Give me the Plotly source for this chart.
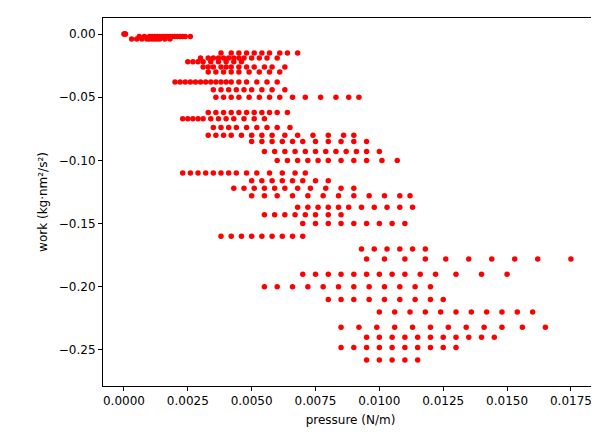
import plotly.graph_objects as go

# work levels (rows of points) and the pressures observed at each level
work_levels = [0.000, -0.002, -0.004, -0.015, -0.019, -0.022, -0.026, -0.030,
               -0.038, -0.044, -0.050, -0.062, -0.067, -0.074, -0.080, -0.085,
               -0.093, -0.100, -0.110, -0.116, -0.122, -0.128, -0.137, -0.143,
               -0.150, -0.160, -0.170, -0.178, -0.190, -0.200, -0.210, -0.220,
               -0.232, -0.240, -0.248, -0.258]

pressures = [
    [0.0000, 0.00002, 0.00004, 0.00006],
    [0.0006, 0.0008, 0.0010, 0.0011, 0.0012, 0.0013, 0.0014, 0.0015, 0.0016, 0.0017, 0.0018, 0.0019, 0.0020, 0.0021, 0.0022, 0.0023, 0.0024, 0.0026],
    [0.0003, 0.0005, 0.0007, 0.0009, 0.0010, 0.0011, 0.0012, 0.0013, 0.0014, 0.0016, 0.0018],
    [0.0038, 0.0042, 0.0045, 0.0048, 0.0051, 0.0054, 0.0057, 0.0061, 0.0064, 0.0068],
    [0.0030, 0.0033, 0.0035, 0.0037, 0.0039, 0.0041, 0.0043, 0.0045, 0.0047, 0.0050, 0.0053, 0.0056, 0.0060],
    [0.0025, 0.0027, 0.0029, 0.0031, 0.0034, 0.0037, 0.0040, 0.0043, 0.0046],
    [0.0031, 0.0033, 0.0035, 0.0038, 0.0040, 0.0042, 0.0045, 0.0048, 0.0051, 0.0055, 0.0058, 0.0063],
    [0.0033, 0.0036, 0.0039, 0.0042, 0.0045, 0.0049, 0.0053, 0.0057, 0.0061],
    [0.0020, 0.0022, 0.0024, 0.0026, 0.0028, 0.0030, 0.0032, 0.0034, 0.0036, 0.0038, 0.0040, 0.0042, 0.0045, 0.0048, 0.0052, 0.0056, 0.0060],
    [0.0035, 0.0038, 0.0041, 0.0044, 0.0047, 0.0050, 0.0054, 0.0058, 0.0063],
    [0.0036, 0.0039, 0.0042, 0.0045, 0.0049, 0.0053, 0.0057, 0.0061, 0.0066, 0.0071, 0.0077, 0.0083, 0.0088, 0.0092],
    [0.0033, 0.0036, 0.0039, 0.0042, 0.0045, 0.0048, 0.0051, 0.0054, 0.0057, 0.0060, 0.0064],
    [0.0023, 0.0025, 0.0027, 0.0029, 0.0031, 0.0034, 0.0037, 0.0040, 0.0043, 0.0047, 0.0051, 0.0055],
    [0.0035, 0.0038, 0.0041, 0.0044, 0.0048, 0.0052, 0.0056, 0.0060, 0.0065],
    [0.0033, 0.0036, 0.0039, 0.0042, 0.0046, 0.0050, 0.0054, 0.0058, 0.0063, 0.0068, 0.0074, 0.0080, 0.0086, 0.0090],
    [0.0050, 0.0054, 0.0058, 0.0062, 0.0066, 0.0070, 0.0075, 0.0080, 0.0085, 0.0090, 0.0095],
    [0.0055, 0.0059, 0.0063, 0.0067, 0.0071, 0.0075, 0.0079, 0.0083, 0.0087, 0.0091, 0.0095, 0.0100],
    [0.0060, 0.0064, 0.0068, 0.0072, 0.0076, 0.0080, 0.0085, 0.0090, 0.0095, 0.0101, 0.0107],
    [0.0023, 0.0026, 0.0029, 0.0032, 0.0035, 0.0038, 0.0041, 0.0044, 0.0048, 0.0052, 0.0057, 0.0062, 0.0067, 0.0071],
    [0.0050, 0.0054, 0.0058, 0.0062, 0.0066, 0.0070, 0.0075, 0.0080],
    [0.0043, 0.0047, 0.0051, 0.0055, 0.0059, 0.0063, 0.0068, 0.0073, 0.0079, 0.0085, 0.0090],
    [0.0050, 0.0055, 0.0060, 0.0066, 0.0072, 0.0078, 0.0084, 0.0090, 0.0096, 0.0102, 0.0108, 0.0112],
    [0.0068, 0.0072, 0.0076, 0.0080, 0.0084, 0.0088, 0.0093, 0.0098, 0.0103, 0.0108, 0.0113],
    [0.0055, 0.0059, 0.0063, 0.0067, 0.0071, 0.0075, 0.0080, 0.0085],
    [0.0070, 0.0075, 0.0080, 0.0085, 0.0090, 0.0095, 0.0100, 0.0105, 0.0110],
    [0.0038, 0.0042, 0.0046, 0.0050, 0.0054, 0.0058, 0.0062, 0.0066, 0.0070],
    [0.0093, 0.0098, 0.0103, 0.0108, 0.0113, 0.0118],
    [0.0095, 0.0102, 0.0110, 0.0118, 0.0126, 0.0135, 0.0144, 0.0153, 0.0162, 0.0175],
    [0.0070, 0.0075, 0.0080, 0.0085, 0.0090, 0.0095, 0.0100, 0.0105, 0.0110, 0.0116, 0.0122, 0.0130, 0.0140, 0.0150],
    [0.0055, 0.0060, 0.0066, 0.0072, 0.0078, 0.0084, 0.0090, 0.0096, 0.0102, 0.0108, 0.0114, 0.0120],
    [0.0080, 0.0085, 0.0090, 0.0096, 0.0102, 0.0108, 0.0114, 0.0120, 0.0125],
    [0.0100, 0.0106, 0.0112, 0.0118, 0.0124, 0.0130, 0.0136, 0.0142, 0.0148, 0.0154, 0.0160],
    [0.0085, 0.0092, 0.0099, 0.0106, 0.0113, 0.0120, 0.0127, 0.0134, 0.0141, 0.0148, 0.0156, 0.0165],
    [0.0095, 0.0100, 0.0105, 0.0110, 0.0115, 0.0120, 0.0125, 0.0130, 0.0135, 0.0140, 0.0145],
    [0.0085, 0.0090, 0.0095, 0.0100, 0.0105, 0.0110, 0.0115, 0.0120, 0.0125, 0.0130],
    [0.0095, 0.0100, 0.0105, 0.0110, 0.0115],
]

x, y = [], []
for w, ps in zip(work_levels, pressures):
    for p in ps:
        x.append(p)
        y.append(w)

fig = go.Figure(go.Scatter(x=x, y=y, mode="markers",
                           marker=dict(color="red", size=5.5, line=dict(width=0))))

axis = dict(showline=True, linecolor="black", linewidth=1, mirror=True,
            ticks="outside", ticklen=4, tickcolor="black", showgrid=False,
            zeroline=False, automargin=False, tickfont=dict(size=12, color="black"))
fig.update_xaxes(axis, range=[-0.00082, 0.01856], tickformat=".4f", dtick=0.0025,
                 tick0=0, title=dict(text="pressure (N/m)", font=dict(size=12), standoff=8))
fig.update_yaxes(axis, range=[-0.2785, 0.0127], tickformat=".2f", dtick=0.05,
                 tick0=0, title=dict(text="work (kg·nm²/s²)", font=dict(size=12), standoff=8))
fig.update_layout(width=599, height=441, plot_bgcolor="white", paper_bgcolor="white",
                  margin=dict(l=95, r=9, t=10, b=63), showlegend=False,
                  font=dict(family="DejaVu Sans", color="black"))
fig.write_html("out.html")
